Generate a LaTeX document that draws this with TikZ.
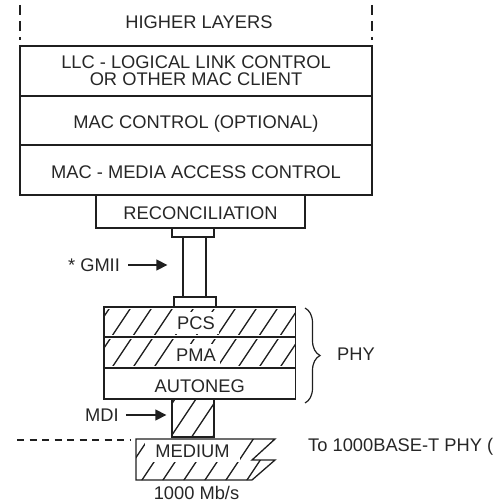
\documentclass[tikz,border=0pt]{standalone}
\usepackage{fontspec}
\setmainfont{Liberation Sans}
\usetikzlibrary{arrows.meta,decorations.pathreplacing}
\newcommand\dgfont{\fontsize{18.3}{17}\selectfont}
\newcommand\hatchlines{\foreach \i in {0,21,...,861} {\draw[hatchline] (\i,0) -- (\i-400,600);}}
\begin{document}
\begin{tikzpicture}[x=1pt,y=-1pt,
  ink/.style={black!88},
  layer/.style={draw=black!88, line width=1.3pt, inner sep=0pt, font=\dgfont, text=black!85,
                text height=17pt, text depth=0pt},
  layer2/.style={draw=black!88, line width=1.3pt, inner sep=0pt, font=\dgfont, text=black!85, align=center},
  plain/.style={draw=black!88, line width=1.3pt, inner sep=0pt},
  lbl/.style={inner sep=0pt, font=\dgfont, text=black!85, text height=13.2pt, text depth=0pt},
  wlbl/.style={lbl, fill=white, inner xsep=4pt, inner ysep=4pt},
  hatchline/.style={draw=black!88, line width=1.3pt},
  arr/.style={draw=black!88, line width=1.3pt, -{Triangle[length=11pt,width=11pt]}},
  sidedash/.style={draw=black!88, line width=1.3pt, dash pattern=on 10pt off 6pt},
]
\useasboundingbox (0,0) rectangle (496,502);

% ---------- hatching ----------
\begin{scope}
  \clip (104,309.5) rectangle (295.5,334.5);
  \hatchlines
\end{scope}
\begin{scope}
  \clip (104,339.5) rectangle (295.5,365.5);
  \hatchlines
\end{scope}
\begin{scope}
  \clip (172,399) rectangle (214,437);
  \hatchlines
\end{scope}
\begin{scope}
  \clip (136,439) -- (275,439) -- (252,460) -- (275,460) -- (252,480) -- (136,480) -- cycle;
  \hatchlines
\end{scope}

% ---------- higher layers ----------
\node[lbl] (hl) at (199,22) {HIGHER LAYERS};
\draw[sidedash] (20,5) -- (20,40);
\draw[sidedash] (372,5) -- (372,40);

% ---------- stack ----------
\node[layer2, minimum width=352pt, minimum height=50pt] (llc) at (196,71)
  {LLC - LOGICAL LINK CONTROL\\OR OTHER MAC CLIENT};
\node[layer, minimum width=352pt, minimum height=49pt] (macc) at (196,120.5)
  {MAC CONTROL (OPTIONAL)};
\node[layer, minimum width=352pt, minimum height=50pt] (mac) at (196,170)
  {MAC - MEDIA ACCESS CONTROL};
\node[layer, minimum width=209pt, minimum height=33pt] (rec) at (200.5,211.5)
  {RECONCILIATION};

% ---------- GMII connector ----------
\node[plain, minimum width=42pt, minimum height=9pt] (toppad) at (193,232.5) {};
\node[plain, minimum width=23pt, minimum height=60pt] (stem) at (194.5,267) {};
\node[plain, minimum width=42pt, minimum height=10pt] (botpad) at (195,302) {};
\node[lbl] (gmii) at (94,265) {* GMII};
\draw[arr] ([xshift=8pt]gmii.east) -- ([xshift=-15pt]gmii.east -| stem.west);

% ---------- PHY ----------
\node[plain, minimum width=191.5pt, minimum height=30pt] (pcs) at (199.75,322) {};
\node[plain, minimum width=191.5pt, minimum height=31pt] (pma) at (199.75,352.5) {};
\node[layer, minimum width=191.5pt, minimum height=31pt] (autoneg) at (199.75,383.5) {AUTONEG};
\node[wlbl] (pcst) at (196,323) {PCS};
\node[wlbl] (pmat) at (196,355) {PMA};
\draw[black!88, line width=1.2pt, decorate, decoration={brace, amplitude=15pt}]
  (305,308) -- (305,403);
\node[lbl] (phy) at (356,354) {PHY};

% ---------- MDI ----------
\node[plain, minimum width=42pt, minimum height=38pt] (mdi) at (193,418) {};
\node[lbl] (mdit) at (102,415) {MDI};
\draw[arr] ([xshift=7pt]mdit.east) -- ([xshift=-5pt]mdit.east -| mdi.west);

% ---------- medium ----------
\node[wlbl, inner xsep=10pt, inner ysep=5pt] (medium) at (192.5,450.7) {MEDIUM};
\draw[black!88, line width=1.3pt, line join=miter]
  (136,439) -- (275,439) -- (252,460) -- (275,460) -- (252,480) -- (136,480) -- cycle;
\coordinate (dashL) at (17,440);
\coordinate (dashR) at (130,440);
\draw[black!88, line width=1.6pt, dash pattern=on 7pt off 5.5pt] (dashL) -- (dashR);
\node[lbl] (rate) at (196.5,493) {1000 Mb/s};
\node[lbl, anchor=west] (to) at (308,445) {To 1000BASE-T PHY (};
\end{tikzpicture}
\end{document}
